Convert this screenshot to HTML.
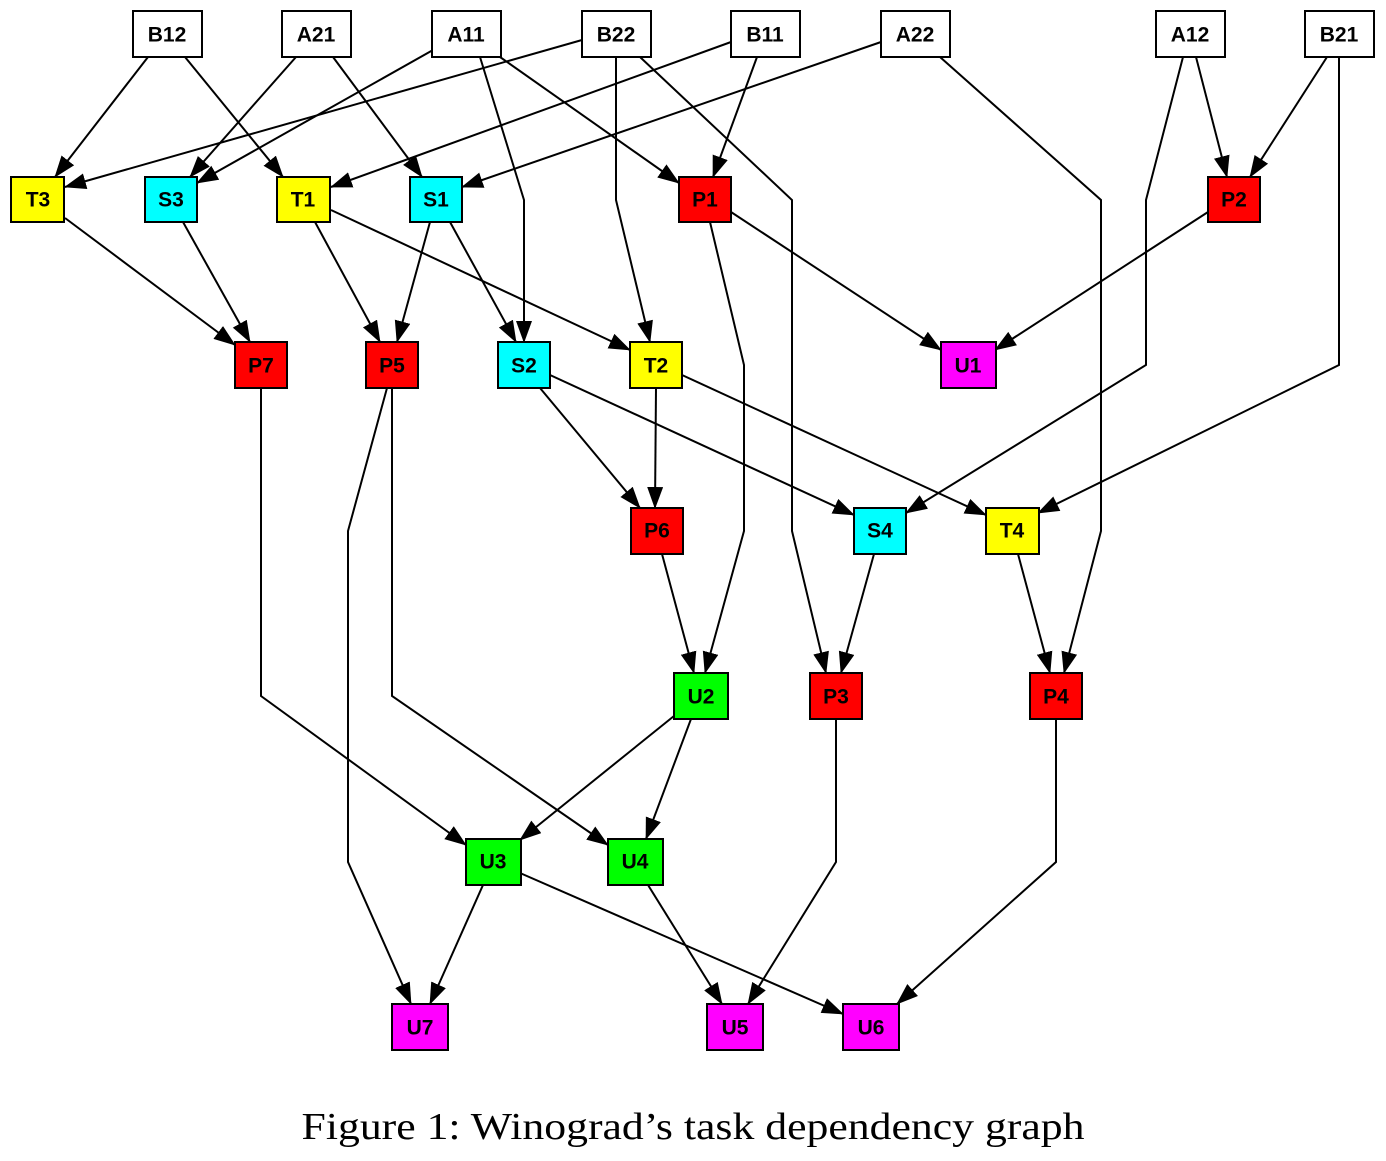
<!DOCTYPE html>
<html><head><meta charset="utf-8"><style>
body{margin:0;background:#fff}
svg text{font-family:"Liberation Sans",sans-serif;font-weight:bold;font-size:21px;text-anchor:middle;dominant-baseline:central}
svg text.cap{font-family:"Liberation Serif",serif;font-weight:normal;font-size:38px}
</style></head><body>
<svg width="1386" height="1156" viewBox="0 0 1386 1156" xmlns="http://www.w3.org/2000/svg">
<defs><marker id="a" markerUnits="userSpaceOnUse" markerWidth="22" markerHeight="18" refX="21" refY="8" orient="auto"><path d="M0,0 L22,8 L0,16 z" fill="#000"/></marker></defs>
<g fill="none" stroke="#000" stroke-width="2" marker-end="url(#a)">
<polyline points="148,57 55,177"/>
<polyline points="185,57 283,177"/>
<polyline points="296,57 190,177"/>
<polyline points="333,57 422,177"/>
<polyline points="433,50 197,183"/>
<polyline points="480,57 524,200 524,342"/>
<polyline points="500,57 679,183"/>
<polyline points="582,40 65,187"/>
<polyline points="616,57 616,200 650,342"/>
<polyline points="640,57 792,200 792,531 826,673"/>
<polyline points="731,42 331,187"/>
<polyline points="757,57 713,177"/>
<polyline points="881,42 462,187"/>
<polyline points="940,57 1101,200 1101,531 1064,673"/>
<polyline points="1196,57 1227,177"/>
<polyline points="1183,57 1146,200 1146,365 906,513"/>
<polyline points="1327,57 1250,177"/>
<polyline points="1339,57 1339,365 1038,513"/>
<polyline points="65,218 235,345"/>
<polyline points="183,222 250,342"/>
<polyline points="315,222 380,342"/>
<polyline points="331,210 630,350"/>
<polyline points="430,222 397,342"/>
<polyline points="450,222 516,342"/>
<polyline points="731,212 941,350"/>
<polyline points="710,222 744,365 744,531 705,673"/>
<polyline points="1208,212 995,350"/>
<polyline points="261,388 261,696 466,845"/>
<polyline points="387,388 348,531 348,862 411,1004"/>
<polyline points="392,388 392,696 608,845"/>
<polyline points="540,388 640,508"/>
<polyline points="550,375 854,515"/>
<polyline points="656,388 655,508"/>
<polyline points="682,375 986,515"/>
<polyline points="874,554 841,673"/>
<polyline points="1018,554 1050,673"/>
<polyline points="662,554 694,673"/>
<polyline points="674,716 520,840"/>
<polyline points="691,719 646,839"/>
<polyline points="836,719 836,862 748,1004"/>
<polyline points="1056,719 1056,862 897,1004"/>
<polyline points="483,885 430,1004"/>
<polyline points="520,873 843,1014"/>
<polyline points="648,885 722,1004"/>
</g>
<g stroke="#000" stroke-width="2">
<g fill="#fff">
<rect x="133" y="11" width="69" height="46"/><rect x="282" y="11" width="69" height="46"/><rect x="432" y="11" width="69" height="46"/><rect x="582" y="11" width="69" height="46"/><rect x="731" y="11" width="69" height="46"/><rect x="881" y="11" width="69" height="46"/><rect x="1156" y="11" width="69" height="46"/><rect x="1305" y="11" width="69" height="46"/>
</g>
<rect x="11" y="177" width="53" height="45" fill="#ff0"/>
<rect x="145" y="177" width="52" height="45" fill="#0ff"/>
<rect x="277" y="177" width="53" height="45" fill="#ff0"/>
<rect x="410" y="177" width="52" height="45" fill="#0ff"/>
<rect x="679" y="177" width="52" height="45" fill="#f00"/>
<rect x="1208" y="177" width="52" height="45" fill="#f00"/>
<rect x="235" y="342" width="52" height="46" fill="#f00"/>
<rect x="366" y="342" width="52" height="46" fill="#f00"/>
<rect x="498" y="342" width="52" height="46" fill="#0ff"/>
<rect x="630" y="342" width="52" height="46" fill="#ff0"/>
<rect x="941" y="342" width="55" height="46" fill="#f0f"/>
<rect x="631" y="508" width="52" height="46" fill="#f00"/>
<rect x="854" y="508" width="52" height="46" fill="#0ff"/>
<rect x="986" y="508" width="53" height="46" fill="#ff0"/>
<rect x="674" y="673" width="54" height="46" fill="#0f0"/>
<rect x="810" y="673" width="52" height="46" fill="#f00"/>
<rect x="1030" y="673" width="52" height="46" fill="#f00"/>
<rect x="466" y="839" width="55" height="46" fill="#0f0"/>
<rect x="608" y="839" width="55" height="46" fill="#0f0"/>
<rect x="392" y="1004" width="56" height="46" fill="#f0f"/>
<rect x="707" y="1004" width="56" height="46" fill="#f0f"/>
<rect x="843" y="1004" width="56" height="46" fill="#f0f"/>
</g>
<g>
<text x="167" y="35">B12</text><text x="316" y="35">A21</text><text x="466" y="35">A11</text><text x="616" y="35">B22</text><text x="765" y="35">B11</text><text x="915" y="35">A22</text><text x="1190" y="35">A12</text><text x="1339" y="35">B21</text>
<text x="38" y="200">T3</text><text x="171" y="200">S3</text><text x="303" y="200">T1</text><text x="436" y="200">S1</text><text x="705" y="200">P1</text><text x="1234" y="200">P2</text>
<text x="261" y="366">P7</text><text x="392" y="366">P5</text><text x="524" y="366">S2</text><text x="656" y="366">T2</text><text x="968" y="366">U1</text>
<text x="657" y="531">P6</text><text x="880" y="531">S4</text><text x="1012" y="531">T4</text>
<text x="701" y="697">U2</text><text x="836" y="697">P3</text><text x="1056" y="697">P4</text>
<text x="493" y="862">U3</text><text x="635" y="862">U4</text>
<text x="420" y="1028">U7</text><text x="735" y="1028">U5</text><text x="871" y="1028">U6</text>
<text class="cap" x="693" y="1127" textLength="783" lengthAdjust="spacingAndGlyphs">Figure 1: Winograd’s task dependency graph</text>
</g>
</svg>
</body></html>
